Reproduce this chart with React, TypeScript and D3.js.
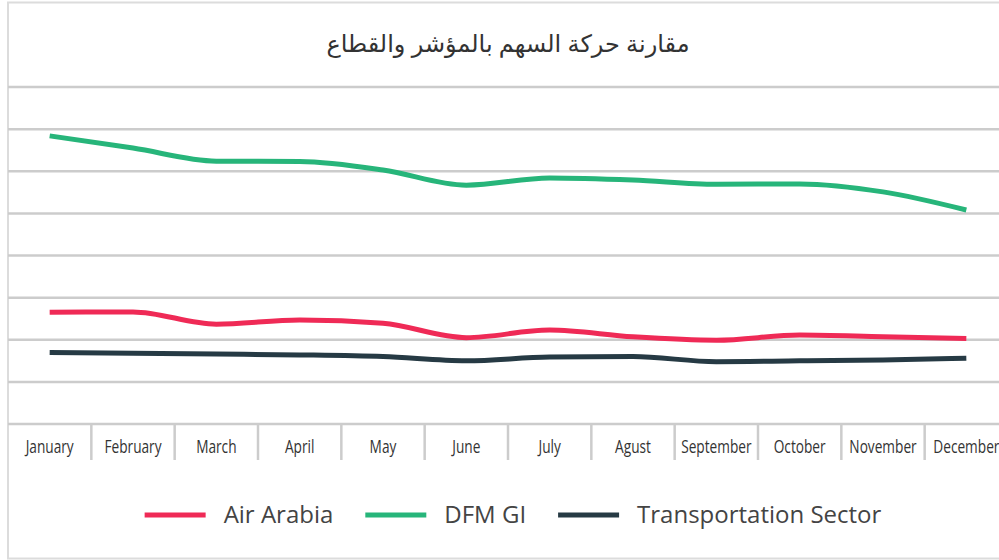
import React from "react";
import * as d3 from "d3";

const months = ["January", "February", "March", "April", "May", "June", "July", "Agust", "September", "October", "November", "December"];
const airArabia = [26.5, 26.6, 23.7, 24.7, 23.9, 20.5, 22.3, 20.7, 19.9, 21.1, 20.7, 20.3];
const dfmGI = [68.4, 65.5, 62.4, 62.3, 60.3, 56.7, 58.4, 57.9, 56.9, 57.0, 55.1, 50.8];
const transport = [17.0, 16.8, 16.6, 16.4, 16.0, 15.0, 15.9, 16.0, 14.8, 15.0, 15.2, 15.6];
const gridValues = [0, 10, 20, 30, 40, 50, 60, 70, 80];
const seriesNames = ["Air Arabia", "DFM GI", "Transportation Sector"];
const seriesColors = ["#ef2a56", "#27b57a", "#263a44"];
const title = "مقارنة حركة السهم بالمؤشر والقطاع";

const W = 999;
const H = 560;
const plotLeft = 8;
const plotRight = 1008;
const plotTop = 87;
const plotBottom = 424;

function measure(text: string, font: string): number {
  const c = document.createElement("canvas");
  const ctx = c.getContext("2d");
  if (!ctx) return text.length * 10;
  ctx.font = font;
  return ctx.measureText(text).width;
}

export default function App() {
  const x = d3.scaleBand<string>().domain(months).range([plotLeft, plotRight]).padding(0);
  const y = d3.scaleLinear().domain([0, 80]).range([plotBottom, plotTop]);
  const series = [airArabia, dfmGI, transport];
  const line = d3
    .line<number>()
    .x((_, i) => (x(months[i]) as number) + x.bandwidth() / 2)
    .y((d) => y(d))
    .curve(d3.curveMonotoneX);

  const legendFontSize = 24;
  const legendFont = `${legendFontSize}px "Open Sans"`;
  const swatchW = 61;
  const gapText = 18;
  const gapItem = 32;
  const widths = seriesNames.map((n) => measure(n, legendFont));
  const itemWidths = widths.map((w) => swatchW + gapText + w);
  const total = d3.sum(itemWidths) + gapItem * (seriesNames.length - 1);
  const legendCenter = 513;
  let cursor = legendCenter - total / 2;
  const legendItems = seriesNames.map((n, i) => {
    const start = cursor;
    cursor += itemWidths[i] + gapItem;
    return { name: n, color: seriesColors[i], x: start };
  });
  const legendY = 515;

  const labelScale = 0.72;

  return (
    <svg
      width={W}
      height={H}
      style={{ position: "absolute", left: 0, top: 0, background: "#fff" }}
      fontFamily='"Open Sans", "Noto Sans", "DejaVu Sans", sans-serif'
    >
      <rect x={8} y={2.5} width={1100} height={556} fill="#fff" stroke="#dcdcdc" strokeWidth={2} />
      <text
        x={(plotLeft + plotRight) / 2}
        y={52}
        textAnchor="middle"
        fontSize={24}
        fill="#333"
        fontFamily='"Noto Sans", "DejaVu Sans", sans-serif'
      >
        {title}
      </text>
      {gridValues.map((v) => (
        <line key={v} x1={plotLeft} x2={W} y1={y(v)} y2={y(v)} stroke="#cccccc" strokeWidth={2.5} />
      ))}
      {months.map((m, i) =>
        i === 0 ? null : (
          <line
            key={"t" + m}
            x1={x(m) as number}
            x2={x(m) as number}
            y1={plotBottom}
            y2={460}
            stroke="#cccccc"
            strokeWidth={2.5}
          />
        )
      )}
      {months.map((m) => {
        const cx = (x(m) as number) + x.bandwidth() / 2;
        return (
          <text
            key={"l" + m}
            transform={`translate(${cx},453) scale(${labelScale},1)`}
            textAnchor="middle"
            fontSize={19}
            fill="#333"
          >
            {m}
          </text>
        );
      })}
      {series.map((s, i) => (
        <path
          key={seriesNames[i]}
          d={line(s) || ""}
          fill="none"
          stroke={seriesColors[i]}
          strokeWidth={5}
          strokeLinejoin="round"
        />
      ))}
      {legendItems.map((it) => (
        <g key={it.name}>
          <line x1={it.x} x2={it.x + swatchW} y1={legendY} y2={legendY} stroke={it.color} strokeWidth={5} />
          <text x={it.x + swatchW + gapText} y={legendY + 8} fontSize={legendFontSize} fill="#444">
            {it.name}
          </text>
        </g>
      ))}
    </svg>
  );
}
